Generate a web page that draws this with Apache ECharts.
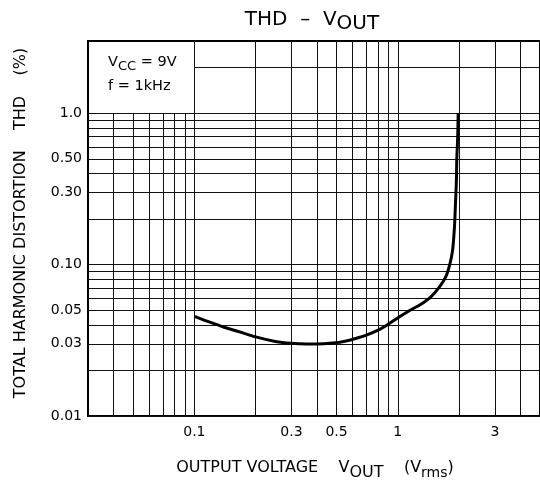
<!DOCTYPE html>
<html><head><meta charset="utf-8">
<script src="https://cdn.jsdelivr.net/npm/echarts@6/dist/echarts.min.js"></script>
<style>html,body{margin:0;padding:0;background:#fff}#c{width:540px;height:481px}</style>
</head><body><div id="c"></div>
<script>
// curve data (Vout in Vrms, THD in %)
const vout = [0.1, 0.12, 0.14, 0.17, 0.2, 0.25, 0.3, 0.354, 0.4, 0.477, 0.55, 0.62, 0.7, 0.81, 0.9, 1.02, 1.15, 1.3, 1.45, 1.6, 1.72, 1.8, 1.86, 1.9, 1.92, 1.94, 1.95, 1.97, 1.98];
const thd  = [0.0455, 0.0415, 0.0386, 0.0357, 0.0333, 0.0311, 0.0302, 0.0299, 0.0299, 0.0303, 0.0312, 0.0325, 0.0342, 0.0372, 0.0405, 0.0453, 0.0500, 0.0548, 0.061, 0.071, 0.083, 0.10, 0.125, 0.18, 0.25, 0.35, 0.5, 0.7, 1.0];

// axis ranges
const xRange = [0.03, 5];
const yRange = [0.01, 3];

// grid lines
const xGridLow = [0.04, 0.05, 0.06, 0.07, 0.08, 0.09];        // stop at 1.0 (under the note box)
const xGridFull = [0.1, 0.2, 0.3, 0.4, 0.5, 0.6, 0.7, 0.8, 0.9, 1, 2, 3, 4];
const yGridFull = [0.01, 0.02, 0.03, 0.04, 0.05, 0.06, 0.07, 0.08, 0.09, 0.1, 0.2, 0.3, 0.4, 0.5, 0.6, 0.7, 0.8, 0.9, 1];
const yGridRight = [2];                                          // starts at 0.1 (right of the note box)

// tick labels
const xTickValues = [0.1, 0.3, 0.5, 1, 3];
const xTickText = ['0.1', '0.3', '0.5', '1', '3'];
const yTickValues = [0.01, 0.03, 0.05, 0.1, 0.3, 0.5, 1];
const yTickText = ['0.01', '0.03', '0.05', '0.10', '0.30', '0.50', '1.0'];

const FONT = 'DejaVu Sans';
const labelBase = {color: '#000', fontSize: 14, fontFamily: FONT};

function vLine(x, y0, y1) {
  const i = xTickValues.indexOf(x);
  const lab = i >= 0 ? Object.assign({show: true, position: 'start', distance: 9, formatter: xTickText[i]}, labelBase) : {show: false};
  return [{coord: [x, y0], label: lab}, {coord: [x, y1]}];
}
function hLine(y, x0, x1) {
  const i = yTickValues.indexOf(y);
  const lab = i >= 0 ? Object.assign({show: true, position: 'start', distance: 6, formatter: yTickText[i]}, labelBase) : {show: false};
  return [{coord: [x0, y], label: lab}, {coord: [x1, y]}];
}

const lines = [];
xGridLow.forEach(x => lines.push(vLine(x, yRange[0], 1)));
xGridFull.forEach(x => lines.push(vLine(x, yRange[0], yRange[1])));
yGridFull.forEach(y => lines.push(hLine(y, xRange[0], xRange[1])));
yGridRight.forEach(y => lines.push(hLine(y, 0.1, xRange[1])));

function txt(size) { return {fontSize: size, fontFamily: FONT, fill: '#000'}; }
function sub(size, drop) { return {fontSize: size, fontFamily: FONT, fill: '#000', padding: [drop * 2, 0, 0, 0]}; }

const chart = echarts.init(document.getElementById('c'), null, {renderer: 'canvas'});
chart.setOption({
  animation: false,
  backgroundColor: '#fff',
  grid: {left: 88, top: 41, bottom: 65, right: -3, show: true, borderColor: '#000', borderWidth: 2, backgroundColor: 'transparent'},
  xAxis: {type: 'log', logBase: 10, min: xRange[0], max: xRange[1],
    axisLine: {show: false}, axisTick: {show: false}, axisLabel: {show: false}, splitLine: {show: false}},
  yAxis: {type: 'log', logBase: 10, min: yRange[0], max: yRange[1],
    axisLine: {show: false}, axisTick: {show: false}, axisLabel: {show: false}, splitLine: {show: false}},
  series: [{
    type: 'line',
    data: vout.map((v, i) => [v, thd[i]]),
    smooth: 0.3,
    showSymbol: false,
    lineStyle: {color: '#000', width: 3},
    z: 5,
    silent: true,
    markLine: {
      silent: true,
      symbol: ['none', 'none'],
      lineStyle: {type: 'solid', color: '#111', width: 1},
      emphasis: {disabled: true},
      data: lines
    }
  }],
  graphic: [
    {type: 'text', x: 312, y: 20, style: {
      text: '{a|THD  –  V}{s|OUT}', align: 'center', verticalAlign: 'middle',
      rich: {a: txt(20), s: sub(20, 4)}}},
    {type: 'text', x: 108, y: 62, style: {
      text: '{a|V}{s|CC}{a| = 9V}', align: 'left', verticalAlign: 'middle',
      rich: {a: txt(14.5), s: sub(13, 5)}}},
    {type: 'text', x: 108, y: 86, style: Object.assign({
      text: 'f = 1kHz', align: 'left', verticalAlign: 'middle'}, txt(14.5))},
    {type: 'text', x: 315, y: 468, style: {
      text: '{a|OUTPUT VOLTAGE    V}{s|OUT}{a|    (V}{r|rms}{a|)}', align: 'center', verticalAlign: 'middle',
      rich: {a: txt(16), s: sub(16, 5), r: sub(14, 5)}}},
    {type: 'text', x: 21, y: 223, rotation: Math.PI / 2, style: Object.assign({
      text: 'TOTAL HARMONIC DISTORTION    THD    (%)', align: 'center', verticalAlign: 'middle'}, txt(16))}
  ]
});
</script>
</body></html>
